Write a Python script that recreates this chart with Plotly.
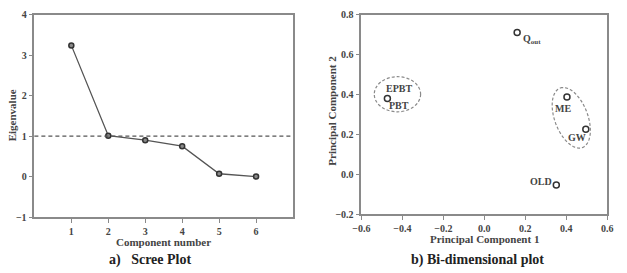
import numpy as np
import plotly.graph_objects as go

# Scree plot data
components = [1, 2, 3, 4, 5, 6]
eigenvalues = [3.24, 1.01, 0.90, 0.75, 0.07, 0.0]

# Bi-dimensional plot data
labels = ["Q<sub>out</sub>", "EPBT", "PBT", "ME", "GW", "OLD"]
pc1 = [0.16, -0.473, -0.473, 0.403, 0.495, 0.351]
pc2 = [0.71, 0.38, 0.38, 0.387, 0.226, -0.054]
label_dx = [4, 12, 12, -4, -9, -15]
label_dy = [-7, 10, -7, -11, -8, 4]
label_anchor = ["left", "center", "center", "center", "center", "center"]

FONT = "Liberation Serif"
TXT = "#444444"
LINE = "#8a8a8a"

W, H = 627, 273
# pixel geometry
L1, R1, T1, B1 = 26, 291, 10, 221
L2, R2, T2, B2 = 361, 613, 10, 218

fig = go.Figure()

fig.add_trace(go.Scatter(
    x=components, y=eigenvalues, mode="lines+markers",
    line=dict(color="#555555", width=1.3),
    marker=dict(size=5, color="#8a8a8a", line=dict(color="#333333", width=1.5)),
    xaxis="x", yaxis="y", showlegend=False))

fig.add_trace(go.Scatter(
    x=[v for i, v in enumerate(pc1) if labels[i] != "EPBT"],
    y=[v for i, v in enumerate(pc2) if labels[i] != "EPBT"],
    mode="markers",
    marker=dict(size=6, color="white", line=dict(color="#333333", width=1.5)),
    xaxis="x2", yaxis="y2", showlegend=False))

tickfont = dict(family=FONT, size=10, color=TXT, weight="bold")
axis_common = dict(showline=True, linecolor=LINE, linewidth=1.5, mirror=True,
                   ticks="outside", ticklen=4, tickcolor=LINE, tickwidth=1.2,
                   showgrid=False, zeroline=False, tickfont=tickfont)

fig.update_layout(
    width=W, height=H, margin=dict(l=0, r=0, t=0, b=0),
    paper_bgcolor="white", plot_bgcolor="white",
    xaxis=dict(domain=[L1 / W, R1 / W], range=[0, 7], tickvals=components, **axis_common),
    yaxis=dict(domain=[1 - B1 / H, 1 - T1 / H], range=[-1, 4], dtick=1, **axis_common),
    xaxis2=dict(domain=[L2 / W, R2 / W], range=[-0.6, 0.6], dtick=0.2, tickformat=".1f",
                anchor="y2", **axis_common),
    yaxis2=dict(domain=[1 - B2 / H, 1 - T2 / H], range=[-0.2, 0.8], dtick=0.2, tickformat=".1f",
                anchor="x2", **axis_common),
)

# reference line at eigenvalue = 1
fig.add_shape(type="line", xref="x domain", yref="y", x0=0, x1=1, y0=1, y1=1,
              line=dict(color="#555555", width=1.2, dash="4px,3px"))

# left ellipse
fig.add_shape(type="circle", xref="x2", yref="y2", x0=-0.537, x1=-0.311, y0=0.313, y1=0.489,
              line=dict(color=LINE, width=1.2, dash="3px,2px"))

# right rotated ellipse (parametric, pixel-space shape mapped to data)
pxx = (R2 - L2) / 1.2
pxy = (B2 - T2) / 1.0
cx, cy = 0.424, 0.283
a, b, th = 33, 17, np.deg2rad(20)
t = np.linspace(0, 2 * np.pi, 80)
dx = -a * np.sin(th) * np.cos(t) + b * np.cos(th) * np.sin(t)
dy = a * np.cos(th) * np.cos(t) + b * np.sin(th) * np.sin(t)
ex = cx + dx / pxx
ey = cy + dy / pxy
path = "M " + " L ".join(f"{x:.4f},{y:.4f}" for x, y in zip(ex, ey)) + " Z"
fig.add_shape(type="path", xref="x2", yref="y2", path=path,
              line=dict(color=LINE, width=1.2, dash="3px,2px"))

# point labels
for lab, x, y, ddx, ddy, anc in zip(labels, pc1, pc2, label_dx, label_dy, label_anchor):
    fig.add_annotation(x=x, y=y, xref="x2", yref="y2", text=f"<b>{lab}</b>", showarrow=False,
                       xshift=ddx, yshift=ddy, xanchor=anc, yanchor="middle",
                       font=dict(family=FONT, size=10, color=TXT))

titlefont = dict(family=FONT, size=11, color=TXT)
capfont = dict(family=FONT, size=14, color="#222222")

def ann(text, x, y, font, angle=0):
    fig.add_annotation(x=x / W, y=1 - y / H, xref="paper", yref="paper", text=text,
                       showarrow=False, textangle=angle, xanchor="center", yanchor="middle",
                       font=font)

ann("<b>Eigenvalue</b>", 3, 115, titlefont, -90)
ann("<b>Component number</b>", 158, 247, titlefont)
ann("<b>Principal Component 2</b>", 330, 110, titlefont, -90)
ann("<b>Principal Component 1</b>", 487, 244, titlefont)
ann("<b>a)   Scree Plot</b>", 144, 266, capfont)
ann("<b>b) Bi-dimensional plot</b>", 480, 266, capfont)

fig.write_html("out.html")
